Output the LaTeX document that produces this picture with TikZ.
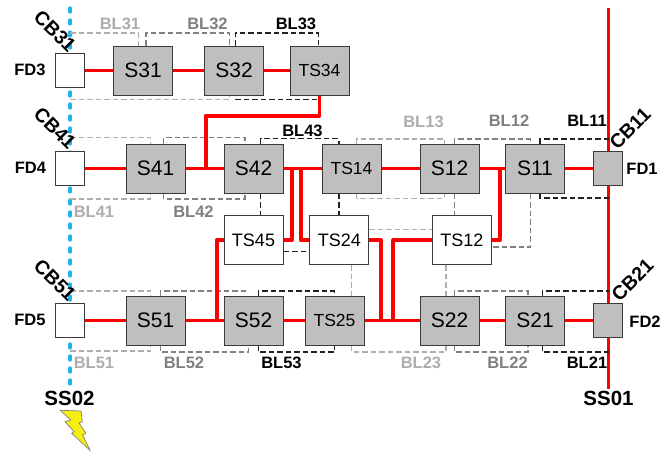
\documentclass[tikz,border=0pt]{standalone}
\usepackage{fontspec}
\setmainfont{Liberation Sans}
\definecolor{boxgray}{HTML}{BFBFBF}
\definecolor{bdr}{HTML}{3A3A3A}
\definecolor{lg}{HTML}{ADADAD}
\definecolor{mg}{HTML}{808080}
\definecolor{dg}{HTML}{222222}
\definecolor{busblue}{HTML}{1EB4F0}
\definecolor{busred}{HTML}{FF0000}
\definecolor{bolt}{HTML}{F5EE10}
\pgfdeclarelayer{bg}
\pgfsetlayers{bg,main}
\tikzset{
 x=1pt,y=-1pt,
 sw/.style={draw=bdr,line width=1pt,minimum width=59pt,minimum height=49pt,inner sep=0pt,font=\fontsize{21}{22}\selectfont},
 gs/.style={sw,fill=boxgray},
 gt/.style={sw,fill=boxgray,font=\fontsize{17.5}{18}\selectfont},
 wt/.style={sw,fill=white,font=\fontsize{18}{19}\selectfont},
 fdw/.style={draw=bdr,line width=1pt,minimum width=29.5pt,minimum height=34pt,inner sep=0pt,fill=white},
 fdg/.style={fdw,fill=boxgray},
 lbl/.style={font=\bfseries\fontsize{16.5}{17}\selectfont,inner sep=0pt},
 cb/.style={font=\bfseries\fontsize{19.5}{20}\selectfont,inner sep=0pt},
 ss/.style={font=\bfseries\fontsize{20.5}{21}\selectfont,inner sep=0pt},
 rl/.style={draw=busred,line width=3.8pt,line join=round},
 bl/.style={line width=1.1pt,dash pattern=on 5.5pt off 3pt},
 bla/.style={bl,draw=lg},
 blb/.style={bl,draw=mg},
 blc/.style={bl,draw=dg},
}
\begin{document}
\begin{tikzpicture}
\useasboundingbox (0,0) rectangle (672,453);
% feeder and switch nodes
\node[fdw] (fd3) at (70,70.5) {};
\node[fdw] (fd4) at (70,168.5) {};
\node[fdw] (fd5) at (70,320.5) {};
\node[fdg] (fd1) at (608.2,168.5) {};
\node[fdg] (fd2) at (608.2,320.5) {};
\node[gs] (s31) at (143,70.5) {S31};
\node[gs] (s32) at (234,70.5) {S32};
\node[gt] (ts34) at (319.5,70.5) {TS34};
\node[gs] (s41) at (155.5,168.5) {S41};
\node[gs] (s42) at (253.5,168.5) {S42};
\node[gt] (ts14) at (351.5,168.5) {TS14};
\node[gs] (s12) at (449.5,168.5) {S12};
\node[gs] (s11) at (535,168.5) {S11};
\node[gs] (s51) at (155.5,320.5) {S51};
\node[gs] (s52) at (253.5,320.5) {S52};
\node[gt] (ts25) at (334.5,320.5) {TS25};
\node[gs] (s22) at (449.5,320.5) {S22};
\node[gs] (s21) at (535,320.5) {S21};
\node[wt] (ts45) at (253.5,240.2) {TS45};
\node[wt] (ts24) at (339.3,240.2) {TS24};
\node[wt] (ts12) at (461.8,240.2) {TS12};
% free ends and junctions
\coordinate (sb3t) at (70,8); \coordinate (sb3b) at (70,390);
\coordinate (sa1t) at (608.8,8); \coordinate (sa1b) at (608.8,389);
\coordinate (j34) at (205.7,115.7);
\coordinate (j41) at (205.7,168.5);
\coordinate (j45a) at (291.7,168.5);
\coordinate (j24a) at (300.7,168.5);
\coordinate (j45l) at (216.7,320.5);
\coordinate (j24r) at (381,320.5);
\coordinate (j12l) at (393.3,320.5);
\coordinate (j12r) at (500,168.5);
\begin{pgfonlayer}{bg}
% buses
\draw[busblue,line width=3.3pt,line cap=round,dash pattern=on 4pt off 8pt] (sb3t) -- (sb3b);
\draw[busred,line width=3pt] (sa1t) -- (sa1b);
% dashed zones, row 1
\draw[bla] (sb3t |- 0,33) -| (138.3,0 |- s31.north);
\draw[bla] (sb3t |- 0,99.5) -| (229.3,0 |- s31.south);
\draw[blb] (146,0 |- s31.north) |- (229.3,33) -- (229.3,0 |- s32.north);
\draw[blc] (235.3,0 |- s32.north) |- (318.3,33) -- (318.3,0 |- ts34.north);
\draw[blc] (235.3,99.5) -- (318.3,99.5);
% row 2
\draw[bla] (sb3t |- 0,137.7) -| (150.4,0 |- s41.north);
\draw[bla] (sb3t |- 0,199) -| (150.4,0 |- s41.south);
\draw[blb] (163.7,0 |- s41.north) |- (245,137.7) -- (245,0 |- s42.north);
\draw[blb] (163.7,0 |- s41.south) |- (245,199) -- (245,0 |- s42.south);
\draw[blc] (260.7,0 |- s42.north) |- (339,138.7) -- (339,0 |- ts14.north);
\draw[blc] (260.7,0 |- s42.south) -- (260.7,0 |- ts45.north);
\draw[blc] (339,0 |- ts14.south) -- (339,0 |- ts24.north);
\draw[blc] (ts45.east |- 0,251.7) -- (ts24.west |- 0,251.7);
\draw[bla] (356.7,0 |- ts14.north) |- (444.3,139) -- (444.3,0 |- s12.north);
\draw[bla] (356.7,0 |- ts14.south) |- (444.3,198.3) -- (444.3,0 |- s12.south);
\draw[bla] (ts24.east |- 0,229.3) -- (ts12.west |- 0,229.3);
\draw[blb] (454.3,0 |- s12.north) |- (530.3,139) -- (530.3,0 |- s11.north);
\draw[blb] (454.3,0 |- s12.south) -- (454.3,0 |- ts12.north);
\draw[blb] (530.3,0 |- s11.south) |- (ts12.east |- 0,247);
\draw[blc] (540,0 |- s11.north) |- (sa1t |- 0,139);
\draw[blc] (540,0 |- s11.south) |- (sa1t |- 0,198);
% row 3
\draw[bla] (sb3t |- 0,291) -| (150.7,0 |- s51.north);
\draw[bla] (sb3t |- 0,351) -| (150.7,0 |- s51.south);
\draw[blb] (160.3,0 |- s51.north) |- (248.7,291);
\draw[blb] (160.3,0 |- s51.south) |- (248.7,352) -- (248.7,0 |- s52.south);
\draw[blc] (258.3,0 |- s52.north) |- (334.3,291) -- (334.3,0 |- ts25.north);
\draw[blc] (258.3,0 |- s52.south) |- (334.3,352) -- (334.3,0 |- ts25.south);
\draw[bla] (351.7,0 |- ts24.south) -- (351.7,0 |- ts25.north);
\draw[bla] (351.7,0 |- ts25.south) |- (446,352) -- (446,0 |- s22.south);
\draw[bla] (446,0 |- ts12.south) -- (446,0 |- s22.north);
\draw[blb] (454.3,0 |- s22.north) |- (528,291) -- (528,0 |- s21.north);
\draw[blb] (454.3,0 |- s22.south) |- (528,352) -- (528,0 |- s21.south);
\draw[blc] (542.3,0 |- s21.north) |- (sa1t |- 0,291);
\draw[blc] (542.3,0 |- s21.south) |- (sa1t |- 0,352);
% power connectors
\draw[rl] (fd3) -- (s31);
\draw[rl] (s31) -- (s32);
\draw[rl] (s32) -- (ts34);
\draw[rl] (fd4) -- (s41);
\draw[rl] (s41) -- (s42);
\draw[rl] (s42) -- (ts14);
\draw[rl] (ts14) -- (s12);
\draw[rl] (s12) -- (s11);
\draw[rl] (s11) -- (fd1);
\draw[rl] (fd5) -- (s51);
\draw[rl] (s51) -- (s52);
\draw[rl] (s52) -- (ts25);
\draw[rl] (ts25) -- (s22);
\draw[rl] (s22) -- (s21);
\draw[rl] (s21) -- (fd2);
\draw[rl] (ts34.south) |- (j34) -- (j41);
\draw[rl] (j45a) |- (ts45.east);
\draw[rl] (j24a) |- (ts24.west);
\draw[rl] (ts45.west) -| (j45l);
\draw[rl] (ts24.east) -| (j24r);
\draw[rl] (ts12.west) -| (j12l);
\draw[rl] (ts12.east) -| (j12r);
\end{pgfonlayer}
% labels
\node[lbl,text=lg] (l31) at (120,24) {BL31};
\node[lbl,text=mg] (l32) at (207.5,24) {BL32};
\node[lbl,text=black] (l33) at (296,24) {BL33};
\node[lbl,text=black] (l43) at (302.5,130.5) {BL43};
\node[lbl,text=lg] (l13) at (423.5,122) {BL13};
\node[lbl,text=mg] (l12) at (509,121) {BL12};
\node[lbl,text=black] (l11) at (587,121) {BL11};
\node[lbl,text=lg] (l41) at (94,212) {BL41};
\node[lbl,text=mg] (l42) at (193.5,212) {BL42};
\node[lbl,text=lg] (l51) at (94,363) {BL51};
\node[lbl,text=mg] (l52) at (184,363) {BL52};
\node[lbl,text=black] (l53) at (281.5,363) {BL53};
\node[lbl,text=lg] (l23) at (421,363) {BL23};
\node[lbl,text=mg] (l22) at (507.5,363) {BL22};
\node[lbl,text=black] (l21) at (587,363) {BL21};
\node[lbl] (f3) at (30,70) {FD3};
\node[lbl] (f4) at (30.5,168) {FD4};
\node[lbl] (f5) at (30,320) {FD5};
\node[lbl] (f1) at (642,168.5) {FD1};
\node[lbl] (f2) at (645,322) {FD2};
\node[cb,rotate=-45] (c3) at (55,31) {CB31};
\node[cb,rotate=-45] (c4) at (55,128) {CB41};
\node[cb,rotate=-45] (c5) at (55,280) {CB51};
\node[cb,rotate=45] (c1) at (630,128.5) {CB11};
\node[cb,rotate=45] (c2) at (632.5,280) {CB21};
\node[ss] (ss2) at (69.5,398) {SS02};
\node[ss] (ss1) at (608.5,398) {SS01};
% lightning
\draw[draw=gray,fill=bolt,line width=0.7pt,line join=miter] (60.3,410.3) -- (81,411) -- (82.3,421.7) -- (79,423) -- (86,433.3) -- (82.7,435) -- (90,450.3) -- (71.7,433.3) -- (74,431.7) -- (65,421.7) -- (70.7,420) -- cycle;
\end{tikzpicture}
\end{document}
